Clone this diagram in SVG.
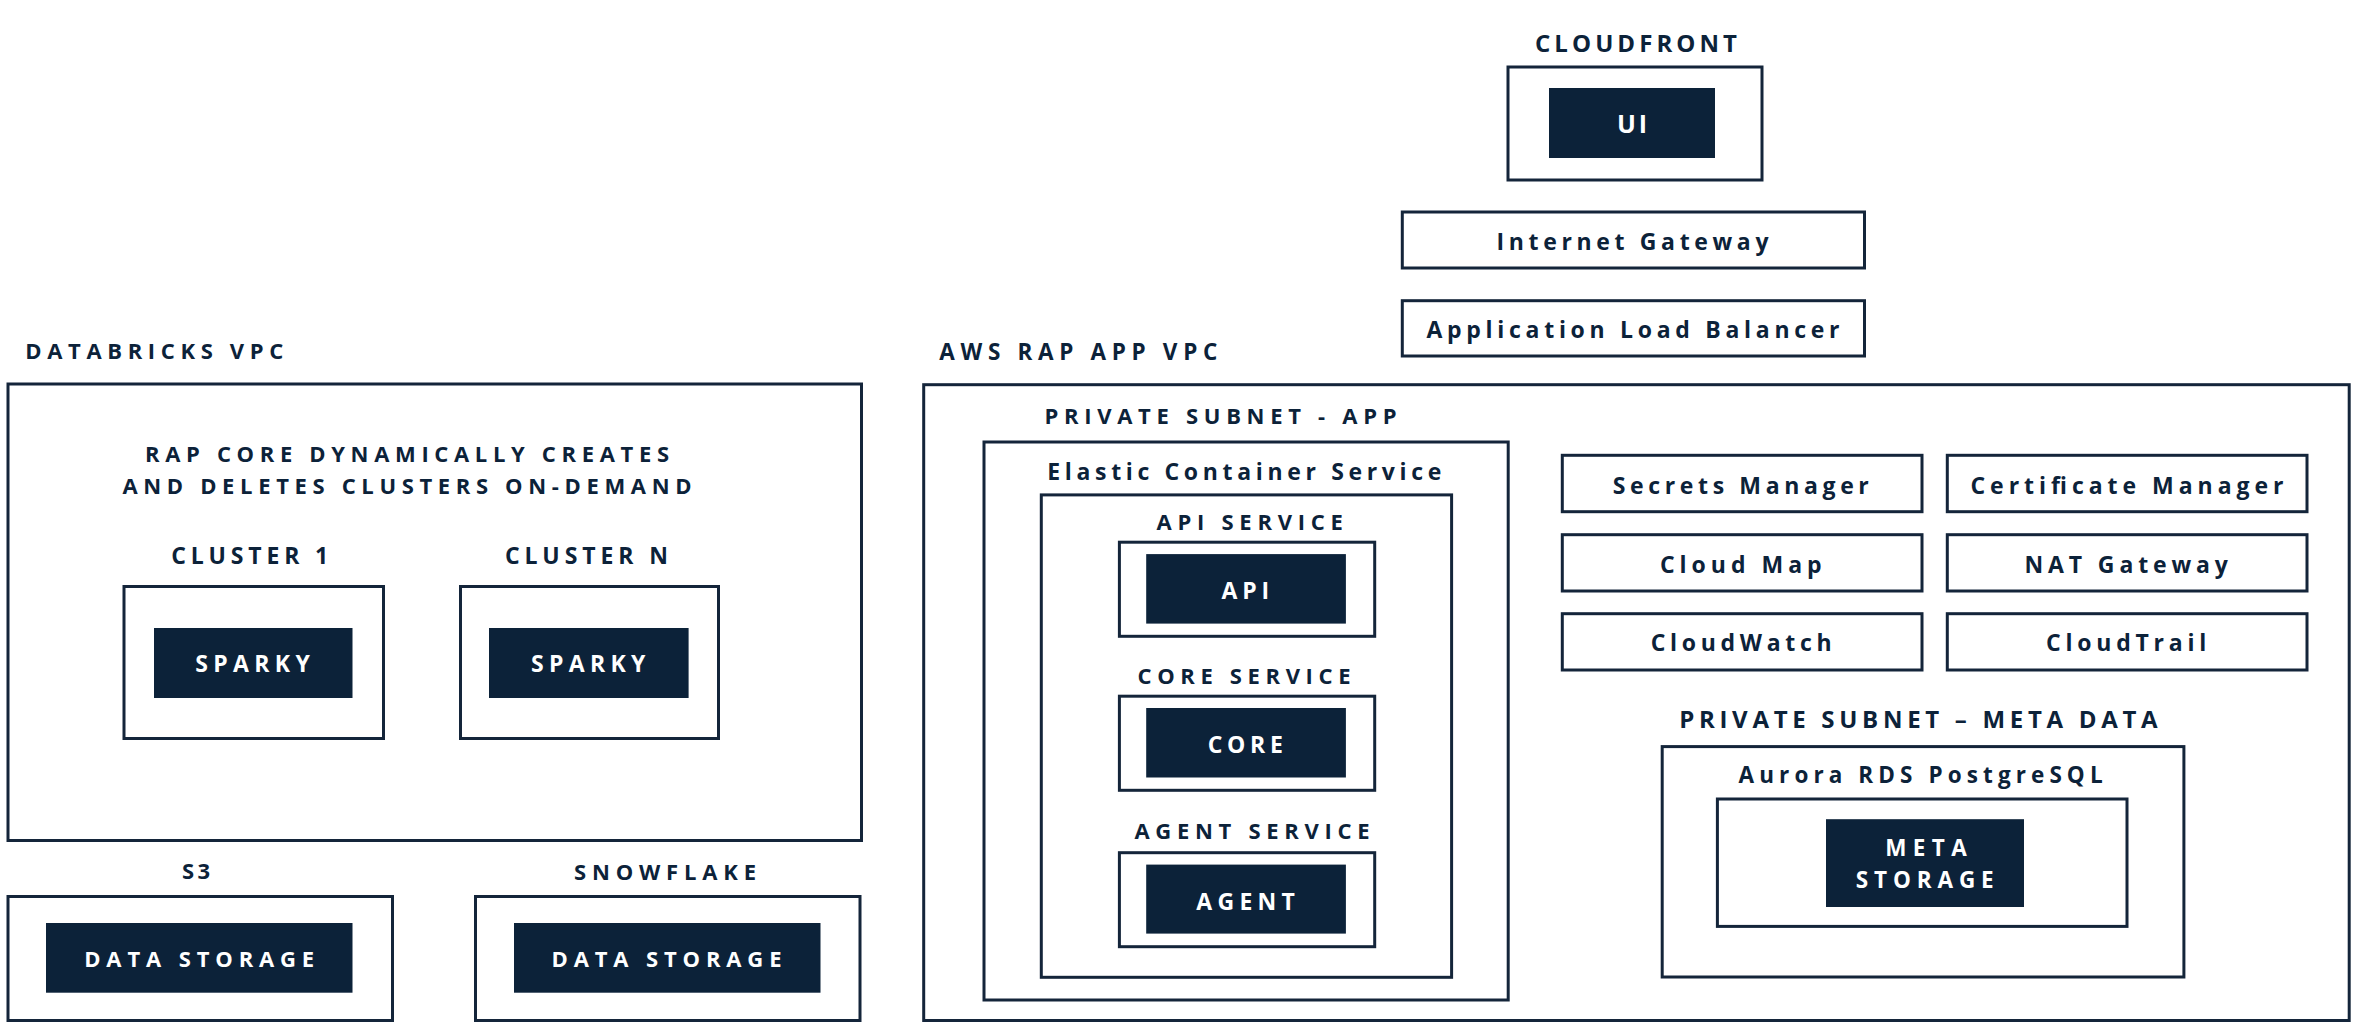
<svg xmlns="http://www.w3.org/2000/svg" width="2366" height="1026" viewBox="0 0 2366 1026">
<style>
  .box { fill: #ffffff; stroke: #14253a; stroke-width: 3; }
  .solid { fill: #0c2239; stroke: none; }
  .t { font-family: "Open Sans", "Liberation Sans", sans-serif; font-weight: 700; fill: #0c2239; text-anchor: middle; }
  .w { font-family: "Open Sans", "Liberation Sans", sans-serif; font-weight: 700; fill: #ffffff; text-anchor: middle; }
  .s { text-anchor: start; }
  .svc { font-size: 23px; }
</style>
<rect x="0" y="0" width="2366" height="1026" fill="#ffffff"/>

<g id="cloudfront">
  <text class="t" x="1636" y="52" font-size="24" textLength="202" lengthAdjust="spacing">CLOUDFRONT</text>
  <rect class="box" x="1508" y="67" width="254" height="113"/>
</g>
<g id="ui">
  <rect class="solid" x="1549" y="88" width="166" height="70"/>
  <text class="w" x="1632" y="133" font-size="25" textLength="30" lengthAdjust="spacing">UI</text>
</g>
<g id="internet-gateway">
  <rect class="box" x="1402.3" y="212" width="462.2" height="56"/>
  <text class="t" x="1632.5" y="250" font-size="23" textLength="272" lengthAdjust="spacing">Internet Gateway</text>
</g>
<g id="alb">
  <rect class="box" x="1402.3" y="300.7" width="462.2" height="55.3"/>
  <text class="t" x="1633" y="338" font-size="23" textLength="413" lengthAdjust="spacing">Application Load Balancer</text>
</g>

<g id="databricks-vpc">
  <text class="t s" x="25.3" y="359" font-size="22" textLength="258" lengthAdjust="spacing">DATABRICKS VPC</text>
  <rect class="box" x="8" y="384" width="853.5" height="456.5"/>
  <text class="t" x="407" y="462" font-size="22" textLength="524" lengthAdjust="spacing">RAP CORE DYNAMICALLY CREATES</text>
  <text class="t" x="407" y="494" font-size="22" textLength="569" lengthAdjust="spacing">AND DELETES CLUSTERS ON-DEMAND</text>
</g>
<g id="cluster-1">
  <text class="t" x="249.7" y="564" font-size="23" textLength="157" lengthAdjust="spacing">CLUSTER 1</text>
  <rect class="box" x="124" y="586.5" width="259.5" height="152"/>
</g>
<g id="sparky-1">
  <rect class="solid" x="154" y="628" width="198.5" height="70"/>
  <text class="w" x="252.5" y="671.7" font-size="23" textLength="114.5" lengthAdjust="spacing">SPARKY</text>
</g>
<g id="cluster-n">
  <text class="t" x="586.4" y="564" font-size="23" textLength="163" lengthAdjust="spacing">CLUSTER N</text>
  <rect class="box" x="460.5" y="586.5" width="258" height="152"/>
</g>
<g id="sparky-n">
  <rect class="solid" x="489" y="628" width="199.6" height="70"/>
  <text class="w" x="588.2" y="671.7" font-size="23" textLength="114.5" lengthAdjust="spacing">SPARKY</text>
</g>

<g id="s3">
  <text class="t" x="196" y="879" font-size="22" textLength="28" lengthAdjust="spacing">S3</text>
  <rect class="box" x="8" y="896.5" width="384.5" height="124"/>
</g>
<g id="s3-data-storage">
  <rect class="solid" x="46" y="923" width="306.5" height="69.7"/>
  <text class="w" x="199.2" y="966.7" font-size="22" textLength="230" lengthAdjust="spacing">DATA STORAGE</text>
</g>
<g id="snowflake">
  <text class="t" x="665" y="880" font-size="22" textLength="182" lengthAdjust="spacing">SNOWFLAKE</text>
  <rect class="box" x="475.5" y="896.5" width="384.5" height="124"/>
</g>
<g id="snowflake-data-storage">
  <rect class="solid" x="514" y="923" width="306.5" height="69.7"/>
  <text class="w" x="666.5" y="966.7" font-size="22" textLength="230" lengthAdjust="spacing">DATA STORAGE</text>
</g>

<g id="aws-rap-app-vpc">
  <text class="t s" x="939.3" y="360" font-size="22.5" textLength="278" lengthAdjust="spacing">AWS RAP APP VPC</text>
  <rect class="box" x="923.7" y="384.7" width="1425.5" height="635.8"/>
</g>
<g id="private-subnet-app">
  <text class="t" x="1220.5" y="424" font-size="22" textLength="352" lengthAdjust="spacing">PRIVATE SUBNET - APP</text>
  <rect class="box" x="984" y="442" width="524.2" height="558"/>
</g>
<g id="ecs">
  <text class="t" x="1244.3" y="479.6" font-size="23" textLength="394" lengthAdjust="spacing">Elastic Container Service</text>
  <rect class="box" x="1041.3" y="494.9" width="410.3" height="482.4"/>
</g>
<g id="api-service">
  <text class="t" x="1249.7" y="529.8" font-size="22" textLength="186.4" lengthAdjust="spacing">API SERVICE</text>
  <rect class="box" x="1119.4" y="542.2" width="255.3" height="94.1"/>
</g>
<g id="api">
  <rect class="solid" x="1146.2" y="554.1" width="199.7" height="69.5"/>
  <text class="w" x="1245.3" y="599.3" font-size="23" textLength="47.4" lengthAdjust="spacing">API</text>
</g>
<g id="core-service">
  <text class="t" x="1244" y="683.8" font-size="22" textLength="213" lengthAdjust="spacing">CORE SERVICE</text>
  <rect class="box" x="1119.4" y="696.2" width="255.3" height="94.1"/>
</g>
<g id="core">
  <rect class="solid" x="1146.2" y="708" width="199.7" height="69.5"/>
  <text class="w" x="1245.3" y="752.8" font-size="23" textLength="75" lengthAdjust="spacing">CORE</text>
</g>
<g id="agent-service">
  <text class="t" x="1252" y="838.6" font-size="22" textLength="235" lengthAdjust="spacing">AGENT SERVICE</text>
  <rect class="box" x="1119.4" y="852.7" width="255.3" height="94"/>
</g>
<g id="agent">
  <rect class="solid" x="1146.2" y="864.6" width="199.7" height="69"/>
  <text class="w" x="1245.6" y="909.7" font-size="23" textLength="98.7" lengthAdjust="spacing">AGENT</text>
</g>

<g id="secrets-manager">
  <rect class="box" x="1562.3" y="455.3" width="359.7" height="56.4"/>
  <text class="t svc" x="1740.8" y="494.3" textLength="256" lengthAdjust="spacing">Secrets Manager</text>
</g>
<g id="certificate-manager">
  <rect class="box" x="1947.3" y="455.3" width="359.7" height="56.4"/>
  <text class="t svc" x="2127" y="494.3" textLength="313" lengthAdjust="spacing">Certificate Manager</text>
</g>
<g id="cloud-map">
  <rect class="box" x="1562.3" y="534.7" width="359.7" height="56.3"/>
  <text class="t svc" x="1740.8" y="572.7" textLength="161.7" lengthAdjust="spacing">Cloud Map</text>
</g>
<g id="nat-gateway">
  <rect class="box" x="1947.3" y="534.7" width="359.7" height="56.3"/>
  <text class="t svc" x="2126.2" y="572.7" textLength="203.4" lengthAdjust="spacing">NAT Gateway</text>
</g>
<g id="cloudwatch">
  <rect class="box" x="1562.3" y="613.7" width="359.7" height="56.3"/>
  <text class="t svc" x="1741.2" y="651.3" textLength="181" lengthAdjust="spacing">CloudWatch</text>
</g>
<g id="cloudtrail">
  <rect class="box" x="1947.3" y="613.7" width="359.7" height="56.3"/>
  <text class="t svc" x="2126.2" y="651.3" textLength="160.3" lengthAdjust="spacing">CloudTrail</text>
</g>

<g id="private-subnet-meta-data">
  <text class="t" x="1918.4" y="728" font-size="24" textLength="478.5" lengthAdjust="spacing">PRIVATE SUBNET – META DATA</text>
  <rect class="box" x="1662.2" y="746.6" width="521.7" height="230.4"/>
</g>
<g id="aurora-rds">
  <text class="t" x="1920.6" y="782.7" font-size="22.5" textLength="364" lengthAdjust="spacing">Aurora RDS PostgreSQL</text>
  <rect class="box" x="1717.4" y="799" width="409.6" height="127.4"/>
</g>
<g id="meta-storage">
  <rect class="solid" x="1826" y="819.2" width="198" height="87.8"/>
  <text class="w" x="1926" y="855.7" font-size="22.5" textLength="81.4" lengthAdjust="spacing">META</text>
  <text class="w" x="1924.7" y="888" font-size="22.5" textLength="138" lengthAdjust="spacing">STORAGE</text>
</g>

<g id="connectors"></g>
</svg>
